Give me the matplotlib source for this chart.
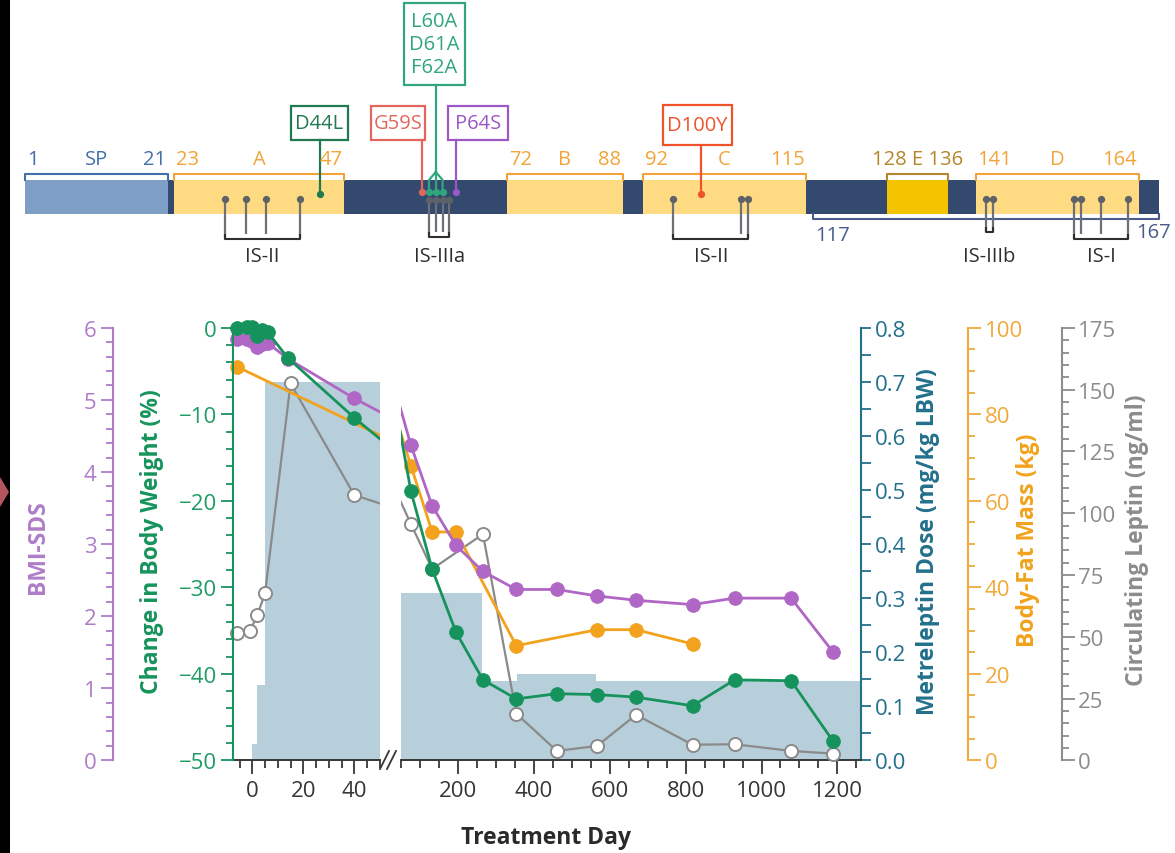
import numpy as np
import matplotlib
matplotlib.use("Agg")
import matplotlib.pyplot as plt
from matplotlib.patches import Rectangle, Polygon
from matplotlib.lines import Line2D
from matplotlib.ticker import MultipleLocator, FixedLocator, FormatStrFormatter

plt.rcParams['font.family'] = ['Open Sans', 'DejaVu Sans']

# ---------------------------------------------------------------- data
weight_days = [-6, -2, 0, 2, 4, 6, 14, 40, 75, 131, 194, 265, 353, 460, 566, 669, 818, 929, 1078, 1189]
weight_change = [0.0, 0.1, 0.1, -0.9, -0.3, -0.5, -3.5, -10.4, -18.9, -27.9, -35.2, -40.7,
                 -42.9, -42.3, -42.4, -42.7, -43.7, -40.7, -40.8, -47.8]
bmi_sds = [5.85, 5.84, 5.82, 5.74, 5.78, 5.79, 5.57, 5.02, 4.37, 3.53, 2.98, 2.62,
           2.37, 2.37, 2.28, 2.22, 2.16, 2.25, 2.25, 1.50]
fat_days = [-6, 75, 131, 194, 353, 566, 669, 818]
fat_mass = [91.0, 68.1, 52.8, 52.8, 26.5, 30.2, 30.2, 26.9]
leptin_days = [-6, -1, 2, 5, 15, 40, 75, 131, 265, 353, 460, 566, 669, 818, 929, 1078, 1189]
leptin = [51.4, 52.2, 58.8, 67.6, 152.5, 107.3, 95.6, 77.4, 91.5, 18.9, 3.8, 5.8,
          18.4, 6.3, 6.5, 3.8, 2.7]
dose_start_days = [0, 2, 5, 50, 262, 354, 563]
dose_end_day = 1262
dose = [0.03, 0.14, 0.70, 0.31, 0.147, 0.16, 0.147]

early_ticks = [0, 20, 40]
late_ticks = [200, 400, 600, 800, 1000, 1200]

# protein map
protein_length = 167
domain_names = ['SP', 'A', 'B', 'C', 'E', 'D']
domain_start = [1, 23, 72, 92, 128, 141]
domain_end = [21, 47, 88, 115, 136, 164]
c_region = [117, 167]
mutation_labels = ['D44L', 'G59S', 'L60A\nD61A\nF62A', 'P64S', 'D100Y']
mutation_residues = [[44], [59], [60, 61, 62], [64], [100]]
site_labels = ['IS-II', 'IS-IIIa', 'IS-II', 'IS-IIIb', 'IS-I']
site_residues = [[30, 33, 36, 41], [60, 61, 62, 63], [96, 106, 107], [142, 143], [155, 156, 159, 163]]

# ---------------------------------------------------------------- style
GREEN = '#16935c'
GREEN_TXT = '#1f9c63'
PURPLE = '#b066c4'
PURPLE_TXT = '#b07cc8'
ORANGE = '#f2a21c'
ORANGE_TXT = '#f2a93b'
GRAY = '#8a8a8a'
GRAY_TXT = '#8c8c8c'
DOSE_C = '#23708c'
BAR_C = '#b7cfdb'
DARK = '#363636'

NAVY = '#34496e'
SP_C = '#7f9ec6'
HELIX_C = '#fedb82'
E_C = '#f4c400'
SP_TXT = '#4470aa'
HELIX_TXT = '#f2a43a'
E_TXT = '#b4862b'
CREG_C = '#4b5c8b'
MUT_COLORS = ['#217a4f', '#e2665c', '#2fa67c', '#9b58c6', '#f0532a']
STICK_C = '#6d7075'

W, H = 1175, 854
fig = plt.figure(figsize=(W / 100, H / 100), dpi=100)


def fx(px):
    return px / W


def fy(py):
    return 1 - py / H


# ---------------------------------------------------------------- time-course panels
PLOT_TOP, PLOT_BOTTOM = 328.8, 761.3
LEFT_PX = (233.3, 379.8)
RIGHT_PX = (401.45, 860.7)
LEFT_LIM = (-7.45, 50)
RIGHT_LIM = (50, 1261.7)


def build_panel(px, xlim):
    base = fig.add_axes([fx(px[0]), fy(PLOT_BOTTOM), (px[1] - px[0]) / W,
                         (PLOT_BOTTOM - PLOT_TOP) / H])
    base.patch.set_visible(False)
    base.set_xlim(*xlim)
    base.set_ylim(0, 0.8)
    lep = base.twinx()
    lep.set_ylim(0, 175)
    fat = base.twinx()
    fat.set_ylim(0, 100)
    bmi = base.twinx()
    bmi.set_ylim(0, 6)
    wt = base.twinx()
    wt.set_ylim(-50, 0)
    for a in (base, lep, fat, bmi, wt):
        for sp in a.spines.values():
            sp.set_visible(False)
        a.tick_params(axis='y', which='both', left=False, right=False,
                      labelleft=False, labelright=False)
    return base, lep, fat, bmi, wt


def draw_series(ax, days, vals, xlim, color, face, ms, lw, mew):
    d = np.asarray(days, dtype=float)
    v = np.asarray(vals, dtype=float)
    ax.plot(d, v, color=color, lw=lw, solid_joinstyle='round', zorder=2)
    keep = (d >= xlim[0]) & (d <= xlim[1])
    ax.plot(d[keep], v[keep], ls='none', marker='o', ms=ms, mfc=face, mec=color,
            mew=mew, clip_on=False, zorder=3)


def show_yaxis(a, side, pos, color, txt, major, minor, length=(9, 5)):
    sp = a.spines[side]
    sp.set_visible(True)
    sp.set_color(color)
    sp.set_linewidth(1.5)
    if pos is not None:
        sp.set_position(('axes', pos))
    a.yaxis.set_ticks_position(side)
    a.yaxis.set_major_locator(MultipleLocator(major))
    a.yaxis.set_minor_locator(MultipleLocator(minor))
    on = dict(left=(side == 'left'), labelleft=(side == 'left'),
              right=(side == 'right'), labelright=(side == 'right'))
    a.tick_params(axis='y', which='both', direction='out', color=color, width=1.3,
                  labelcolor=txt, labelsize=16, pad=3, **on)
    a.tick_params(axis='y', which='major', length=length[0])
    a.tick_params(axis='y', which='minor', length=length[1], labelleft=False, labelright=False)


panels = [(build_panel(LEFT_PX, LEFT_LIM), LEFT_LIM), (build_panel(RIGHT_PX, RIGHT_LIM), RIGHT_LIM)]
widths = np.diff(dose_start_days + [dose_end_day])

for (base, lep, fat, bmi, wt), lim in panels:
    base.bar(dose_start_days, dose, width=widths, align='edge', color=BAR_C, lw=0, zorder=1)
    draw_series(lep, leptin_days, leptin, lim, GRAY, 'white', 9.4, 1.6, 1.4)
    draw_series(fat, fat_days, fat_mass, lim, ORANGE, ORANGE, 10, 2.0, 0.5)
    draw_series(bmi, weight_days, bmi_sds, lim, PURPLE, PURPLE, 10, 2.0, 0.5)
    draw_series(wt, weight_days, weight_change, lim, GREEN, GREEN, 10, 2.0, 0.5)
    base.spines['bottom'].set_visible(True)
    base.spines['bottom'].set_color(DARK)
    base.spines['bottom'].set_linewidth(1.4)
    base.tick_params(axis='x', which='both', direction='out', color=DARK, width=1.3,
                     labelsize=16, labelcolor=DARK, pad=4)
    base.tick_params(axis='x', which='major', length=10)
    base.tick_params(axis='x', which='minor', length=6)

(lb, llep, lfat, lbmi, lwt), _ = panels[0]
(rb, rlep, rfat, rbmi, rwt), _ = panels[1]

lb.xaxis.set_major_locator(FixedLocator(early_ticks))
lb.xaxis.set_minor_locator(MultipleLocator(5))
rb.xaxis.set_major_locator(FixedLocator(late_ticks))
rb.xaxis.set_minor_locator(MultipleLocator(50))
rb.set_xlim(*RIGHT_LIM)
lb.set_xlim(*LEFT_LIM)

# left-hand scales
left_w = LEFT_PX[1] - LEFT_PX[0]
show_yaxis(lwt, 'left', None, GREEN, GREEN_TXT, 10, 2)
show_yaxis(lbmi, 'left', (113.3 - LEFT_PX[0]) / left_w, PURPLE_TXT, PURPLE_TXT, 1, 0.2)

# right-hand scales
right_w = RIGHT_PX[1] - RIGHT_PX[0]
show_yaxis(rb, 'right', None, DOSE_C, DOSE_C, 0.1, 0.05, length=(7, 7))
show_yaxis(rfat, 'right', (968.3 - RIGHT_PX[0]) / right_w, ORANGE_TXT, ORANGE_TXT, 20, 5)
show_yaxis(rlep, 'right', (1061.7 - RIGHT_PX[0]) / right_w, GRAY_TXT, GRAY_TXT, 25, 5)
rb.yaxis.set_major_formatter(FormatStrFormatter('%.1f'))

# axis break marks
for dx in (0, 7):
    fig.add_artist(Line2D([fx(380 + dx), fx(389 + dx)], [fy(770), fy(752)],
                          color=DARK, lw=1.3))

# axis titles
lab = dict(rotation=90, ha='center', va='center', fontsize=16.5, fontweight='bold')
fig.text(fx(38), fy(547), 'BMI-SDS', color=PURPLE_TXT, **lab)
fig.text(fx(152), fy(542), 'Change in Body Weight (%)', color=GREEN, **lab)
fig.text(fx(928), fy(542), 'Metreleptin Dose (mg/kg LBW)', color=DOSE_C, **lab)
fig.text(fx(1028), fy(540), 'Body-Fat Mass (kg)', color=ORANGE, **lab)
fig.text(fx(1137), fy(540), 'Circulating Leptin (ng/ml)', color=GRAY_TXT, **lab)
fig.text(fx(546), fy(838), 'Treatment Day', ha='center', va='center', fontsize=16.5,
         fontweight='bold', color='#2a2a2a')

# ---------------------------------------------------------------- protein map
TOP_H = 290
RES_ORIGIN, RES_PX = 25.0, 6.79
top = fig.add_axes([0, fy(TOP_H), 1, TOP_H / H])
top.set_xlim(-RES_ORIGIN / RES_PX, (W - RES_ORIGIN) / RES_PX)
top.set_ylim(TOP_H, 0)
top.axis('off')


def rx(px):
    return (px - RES_ORIGIN) / RES_PX


BAR_Y0, BAR_Y1 = 181, 215
top.add_patch(Rectangle((0, BAR_Y0), protein_length, BAR_Y1 - BAR_Y0, fc=NAVY, ec='none'))
for name, s, e in zip(domain_names, domain_start, domain_end):
    if name == 'SP':
        fc, lc, tc = SP_C, SP_TXT, SP_TXT
    elif name == 'E':
        fc, lc, tc = E_C, E_TXT, E_TXT
    else:
        fc, lc, tc = HELIX_C, HELIX_TXT, HELIX_TXT
    top.add_patch(Rectangle((s - 1, BAR_Y0), e - s + 1, BAR_Y1 - BAR_Y0, fc=fc, ec='none'))
    top.plot([s - 1, s - 1, e, e], [BAR_Y0, 175, 175, BAR_Y0], color=lc, lw=1.5)
    tk = dict(va='center', fontsize=14.5, color=tc)
    if name == 'E':
        top.text((s - 1 + e) / 2, 160, f'{s} {name} {e}', ha='center', **tk)
    else:
        top.text(s - 1 + 0.3, 160, str(s), ha='left', **tk)
        top.text((s - 1 + e) / 2, 160, name, ha='center', **tk)
        top.text(e - 0.2, 160, str(e), ha='right', **tk)

# C-terminal region bracket below the bar
cs, ce = c_region
top.plot([cs - 1, cs - 1, ce, ce], [BAR_Y1, 220, 220, BAR_Y1], color=CREG_C, lw=1.5)
top.text(cs - 1 + 0.4, 236, str(cs), ha='left', va='center', fontsize=14.5, color=CREG_C)
top.text(rx(1171), 233, str(ce), ha='right', va='center', fontsize=14.5, color=CREG_C)

# interaction-site lollipops
for label, res in zip(site_labels, site_residues):
    xs = [r - 0.5 for r in res]
    by = 233 if label == 'IS-IIIb' else (238 if label == 'IS-IIIa' else 240)
    dy = 201 if label == 'IS-IIIa' else 200
    for i, x in enumerate(xs):
        end = by if i in (0, len(xs) - 1) else by - 5
        top.plot([x, x], [dy, end], color=STICK_C, lw=1.6, solid_capstyle='butt')
    top.plot([xs[0], xs[0], xs[-1], xs[-1]], [by - 4, by, by, by - 4], color='#2f2f2f', lw=1.5)
    top.plot(xs, [dy] * len(xs), ls='none', marker='o', ms=4.2, color='#5d6168')
    top.text(np.mean([xs[0], xs[-1]]), 257, label, ha='center', va='center',
             fontsize=14.5, color='#2f2f2f')

# mutation call-outs
box_px = [(291, 348, 107, 141), (371, 425, 107, 141), (404, 465, 4, 86),
          (448, 508, 107, 141), (663, 732, 106, 146)]
for label, res, col, (bx0, bx1, by0, by1) in zip(mutation_labels, mutation_residues,
                                                MUT_COLORS, box_px):
    top.add_patch(Rectangle((rx(bx0), by0), rx(bx1) - rx(bx0), by1 - by0, fc='white',
                            ec=col, lw=1.6))
    top.text((rx(bx0) + rx(bx1)) / 2, (by0 + by1) / 2, label, ha='center', va='center',
             fontsize=14.5, color=col, linespacing=1.2)
    xs = [r - 0.5 for r in res]
    dot_y = 195 if len(res) == 1 and res[0] in (44, 100) else 193
    if len(xs) == 1:
        top.plot([xs[0], xs[0]], [by1, dot_y], color=col, lw=1.6)
    else:
        mid = xs[len(xs) // 2]
        top.plot([mid, mid], [by1, 173], color=col, lw=1.6)
        for x in xs:
            top.plot([mid, x, x], [173, 181, dot_y], color=col, lw=1.6)
    top.plot(xs, [dot_y] * len(xs), ls='none', marker='o', ms=4.2, color=col)

# dark scanned margin on the left edge, with a small reddish mark
edge = fig.add_axes([0, 0, fx(10), 1])
edge.set_facecolor('black')
edge.set_xticks([])
edge.set_yticks([])
for sp in edge.spines.values():
    sp.set_visible(False)
edge.set_xlim(0, 10)
edge.set_ylim(H, 0)
edge.add_patch(Polygon([(0, 478), (9, 493), (0, 508)], closed=True, fc='#b4545e', ec='none'))

fig.savefig('out.png', dpi=100)
